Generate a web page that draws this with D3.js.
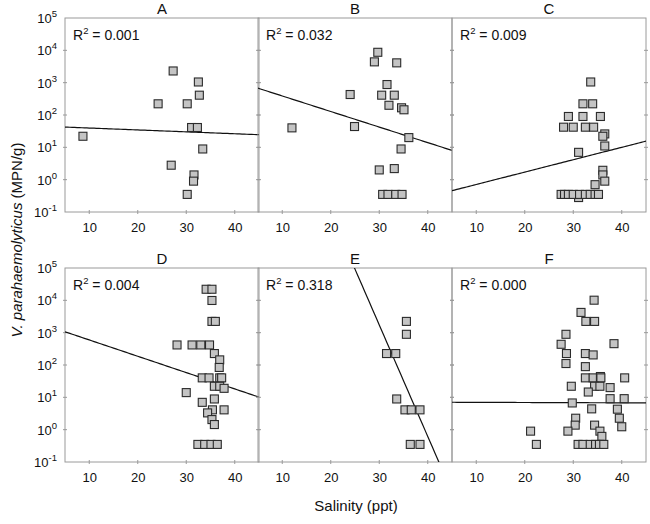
<!DOCTYPE html>
<html><head><meta charset="utf-8">
<script src="https://cdn.jsdelivr.net/npm/d3@7"></script>
<style>body{margin:0;background:#fff}svg{font-family:"Liberation Sans",Arial,sans-serif}</style>
</head><body><svg id="c" width="650" height="524"></svg>
<script>
const panels = ["A","B","C","D","E","F"];
const r2Labels = ["0.001","0.032","0.009","0.004","0.318","0.000"];
const xTicks = [10,20,30,40];
const yTicks = [-1,0,1,2,3,4,5];
// regression lines: log10(V) = a + b * salinity
const lineA = [1.656,-0.0059], lineB=[3.07,-0.0481], lineC=[-0.532,0.0383],
      lineD = [3.28,-0.0505], lineE=[13.59,-0.345], lineF=[0.85,-0.0005];
// [salinity, MPN/g]
const dataA = [[8.7,22],[27.3,2300],[32.5,1050],[32.7,410],[24.2,222],[30.2,222],[31.1,41],[32.3,41],
  [33.4,8.9],[26.9,2.8],[31.6,1.4],[31.5,0.9],[30.2,0.35]];
const dataB = [[12,40],[24,430],[24.9,44],[29.7,8700],[29,4400],[33.6,4100],[31.6,875],[30.5,410],[33.1,410],
  [32,200],[34.6,167],[35.1,145],[36.1,20],[34.5,8.9],[30,2.0],[33.1,2.2],[30.7,0.35],[31.8,0.35],[33.4,0.35],[34.7,0.35]];
const dataC = [[33.6,1050],[32,222],[34,222],[29,90],[32,90],[35.6,90],[28,42],[30,42],[32.5,42],[34.2,42],
  [36.5,26],[36.1,22],[36.5,11],[31.1,7],[36.1,1.95],[36.1,1.4],[36.5,0.9],[34.5,0.7],[31.1,0.28],
  [27.5,0.35],[28.2,0.35],[29,0.35],[30,0.35],[31.3,0.35],[32.5,0.35],[33.5,0.35],[34.5,0.35],[35.2,0.35]];
const dataD = [[34.1,22000],[35.3,22000],[35.3,9900],[35.3,2230],[36,2230],[28.1,417],[31.2,417],[33,417],[34.8,417],
  [35.8,226],[36.9,144],[36.8,84],[33.3,40],[34.7,40],[36.9,40],[37.3,40],[35.8,22],[36.9,22],[37.8,19],[30,14],
  [35.8,8.9],[33.3,7],[35.4,4.1],[37.8,4.1],[34.4,3.3],[35.3,2.05],[35.8,1.44],[32.4,0.35],[33.8,0.35],[35.1,0.35],[36.4,0.35]];
const dataE = [[35.6,2230],[35.6,890],[31.5,226],[33.4,226],[33.6,8.9],[35.3,4.1],[36.6,4.1],[38.4,4.1],[36.4,0.35],[38.4,0.35]];
const dataF = [[34.3,10100],[31.6,4230],[32.6,2230],[34.4,2230],[28.5,890],[27.5,437],[38.4,457],[28.6,226],[32.5,226],[34.1,205],
  [28.5,111],[32.5,89],[32.5,40],[34.1,40],[35.6,44],[35.7,40],[40.6,40],[29.6,22],[34.4,22],[35.5,22],[37.6,20],[33.1,14.6],
  [37.6,9.1],[40.5,9.1],[29.8,6.7],[33.8,4.4],[39.1,4.3],[30.5,2.26],[39.5,2.26],[30.4,1.38],[34.4,1.38],[40,1.23],
  [28.9,0.9],[35.5,0.9],[35.9,0.62],[21.2,0.9],[22.4,0.35],[31,0.35],[32,0.35],[33.5,0.35],[34.6,0.35],[35.4,0.35],[36.3,0.35]];
const allData = [dataA,dataB,dataC,dataD,dataE,dataF];
const allLines = [lineA,lineB,lineC,lineD,lineE,lineF];

const svg = d3.select("#c");
const colX = [65,258,452], pw = 194;
const rowY = [18,268], ph = 194;
const frameCol = "#9a9a9a";

svg.append("defs").selectAll("clipPath").data(panels).join("clipPath")
  .attr("id",(d,i)=>"clip"+i).append("rect")
  .attr("x",(d,i)=>colX[i%3]).attr("y",(d,i)=>rowY[Math.floor(i/3)]).attr("width",pw).attr("height",ph);

panels.forEach((name,i)=>{
  const x0 = colX[i%3], y0 = rowY[Math.floor(i/3)];
  const x = d3.scaleLinear().domain([5,45]).range([x0,x0+pw]);
  const y = d3.scaleLog().domain([0.1,1e5]).range([y0+ph,y0]);
  const g = svg.append("g");
  g.append("rect").attr("x",x0).attr("y",y0).attr("width",pw).attr("height",ph)
    .attr("fill","none").attr("stroke",frameCol).attr("stroke-width",1);
  g.append("g").attr("transform",`translate(0,${y0+ph})`)
    .call(d3.axisBottom(x).tickValues(xTicks).tickSize(0).tickPadding(11))
    .call(a=>{a.select(".domain").remove();a.selectAll("text").attr("font-size",13).attr("fill","#111").attr("font-family","Liberation Sans, Arial, sans-serif");});
  g.selectAll(".xt").data(xTicks).join("line").attr("x1",d=>x(d)).attr("x2",d=>x(d))
    .attr("y1",y0+ph-2).attr("y2",y0+ph+2).attr("stroke",frameCol);
  g.selectAll(".yt").data(yTicks.slice(1,-1)).join("line")
    .attr("x1",x0-2).attr("x2",x0+2).attr("y1",d=>y(Math.pow(10,d))).attr("y2",d=>y(Math.pow(10,d))).attr("stroke",frameCol);
  g.selectAll(".yt2").data(yTicks.slice(1,-1)).join("line")
    .attr("x1",x0+pw-2).attr("x2",x0+pw+2).attr("y1",d=>y(Math.pow(10,d))).attr("y2",d=>y(Math.pow(10,d))).attr("stroke",frameCol);
  if(i%3===0){
    const t = g.selectAll(".yl").data(yTicks).join("text")
      .attr("x",x0-8).attr("y",d=>y(Math.pow(10,d))+5).attr("text-anchor","end").attr("font-size",13).attr("fill","#111");
    t.append("tspan").text("10");
    t.append("tspan").attr("dy",-6).attr("font-size",9.5).text(d=>String(d));
  }
  g.append("text").attr("x",x0+pw/2).attr("y",y0-4).attr("text-anchor","middle").attr("font-size",15).attr("fill","#111").text(name);
  const rt = g.append("text").attr("x",x0+8).attr("y",y0+22).attr("font-size",14).attr("fill","#111");
  rt.append("tspan").text("R");
  rt.append("tspan").attr("dy",-6).attr("font-size",9.5).text("2");
  rt.append("tspan").attr("dy",6).text(" = "+r2Labels[i]);
  const ln = allLines[i];
  const lx = d3.range(5,45.01,0.5);
  g.append("path").attr("clip-path",`url(#clip${i})`)
    .attr("d",d3.line().x(d=>x(d)).y(d=>y(Math.pow(10,ln[0]+ln[1]*d)))(lx))
    .attr("fill","none").attr("stroke","#111").attr("stroke-width",1.2);
  g.selectAll(".pt").data(allData[i]).join("rect")
    .attr("x",d=>x(d[0])-4).attr("y",d=>y(d[1])-4).attr("width",8).attr("height",8)
    .attr("fill","#c4c4c4").attr("stroke","#2a2a2a").attr("stroke-width",1.1);
});
const yt = svg.append("text").attr("transform","translate(22,240) rotate(-90)").attr("text-anchor","middle")
  .attr("font-size",15).attr("fill","#111");
yt.append("tspan").attr("font-style","italic").text("V. parahaemolyticus");
yt.append("tspan").text(" (MPN/g)");
svg.append("text").attr("x",356).attr("y",511).attr("text-anchor","middle").attr("font-size",15).attr("fill","#111").text("Salinity (ppt)");
</script></body></html>
